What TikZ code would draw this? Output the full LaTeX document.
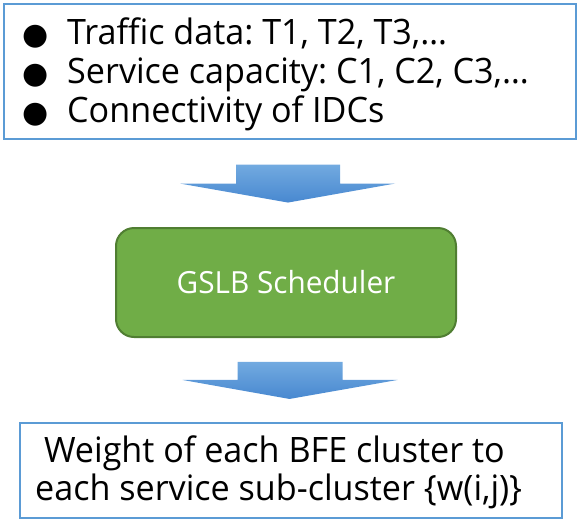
\documentclass[tikz,border=0pt]{standalone}
\usepackage{fontspec}
\setmainfont{Open Sans}[FakeStretch=0.975]
\newfontfamily\symfont{DejaVu Sans}
\usepackage{tikz}
\usetikzlibrary{positioning,calc}
\frenchspacing
\definecolor{boxblue}{HTML}{5B9BD5}
\definecolor{arrtop}{HTML}{72AAE0}
\definecolor{arrbot}{HTML}{4888D0}
\definecolor{schedfill}{HTML}{70AD47}
\definecolor{scheddraw}{HTML}{507E32}
\newcommand{\blt}{\makebox[44.5pt][l]{\symfont\fontsize{30}{30}\selectfont ●}}
\tikzset{
  infobox/.style={draw=boxblue,line width=2.2pt,fill=white,inner sep=0pt},
  schedbox/.style={draw=scheddraw,fill=schedfill,line width=2pt,rounded corners=18pt,
                   text=white,font=\fontsize{30.5}{34}\selectfont,inner sep=0pt},
  itemtext/.style={anchor=base west,inner sep=0pt,font=\fontsize{35}{40}\selectfont},
  flowarr/.style={top color=arrtop,bottom color=arrbot,draw=none}
}
\begin{document}
\begin{tikzpicture}[x=1pt,y=-1pt]
  \useasboundingbox (0,0) rectangle (578,531);
  % input box with the three items
  \node[infobox,minimum width=572pt,minimum height=135pt] (inputs) at (290,71.5) {};
  \node[itemtext] (item1) at (22.5,44) {\blt Traffic data: T1, T2, T3,…};
  \node[itemtext] (item2) at (22.5,83) {\blt Service capacity: C1, C2, C3,…};
  \node[itemtext] (item3) at (22.5,122) {\blt Connectivity of IDCs};
  % scheduler
  \node[schedbox,minimum width=340pt,minimum height=109pt] (sched) at (286,282.5) {GSLB Scheduler};
  % output box
  \node[infobox,minimum width=542pt,minimum height=95pt] (result) at (291,470.5) {};
  \node[itemtext] (res1) at (35,462) {\ Weight of each BFE cluster to};
  \node[itemtext] (res2) at (35,500) {each service sub-cluster \{w(i,j)\}};
  % block arrows between the boxes
  \coordinate (a1) at ($(inputs.south)!0.5!(sched.north)$);
  \coordinate (a2) at ($(sched.south)!0.5!(result.north)$);
  \shade[flowarr] (a1) ++(-52,-19) -- ++(104,0) -- ++(0,19) -- ++(55,0)
    -- ++(-107,19) -- ++(-108,-19) -- ++(56,0) -- cycle;
  \shade[flowarr] (a2) ++(-51,-18) -- ++(105,0) -- ++(0,18) -- ++(55,0)
    -- ++(-108,19) -- ++(-107,-19) -- ++(55,0) -- cycle;
\end{tikzpicture}
\end{document}
